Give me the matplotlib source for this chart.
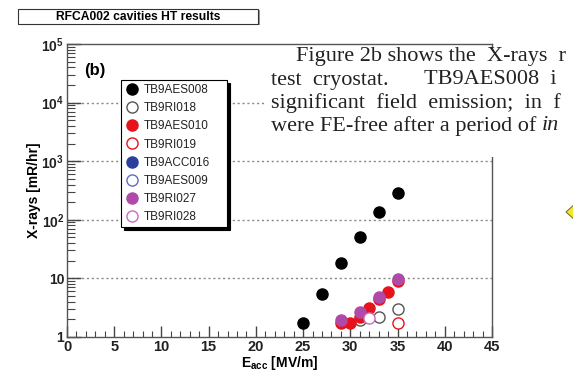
import matplotlib.pyplot as plt
import matplotlib.patches as mpatches
import matplotlib.ticker as mticker
import numpy as np

plt.rcParams['font.family'] = 'Liberation Sans'
plt.rcParams['mathtext.fontset'] = 'custom'
plt.rcParams['mathtext.rm'] = 'Liberation Sans'
plt.rcParams['mathtext.bf'] = 'Liberation Sans:bold'

W, H = 573, 372

# data (E_acc in MV/m, X-rays in mR/hr)
names = ["TB9AES008", "TB9RI018", "TB9AES010", "TB9RI019",
         "TB9ACC016", "TB9AES009", "TB9RI027", "TB9RI028"]
x_aes008 = [25, 27, 29, 31, 33, 35]
y_aes008 = [1.75, 5.5, 18.5, 50, 136, 290]
x_ri018 = [31, 33, 35]
y_ri018 = [1.94, 2.18, 2.98]
x_aes010 = [29, 30, 31, 32, 33, 34, 35]
y_aes010 = [1.72, 1.75, 2.2, 3.18, 4.4, 5.85, 9.1]
x_ri019 = [35]
y_ri019 = [1.75]
x_acc016 = []
y_acc016 = []
x_aes009 = []
y_aes009 = []
x_ri027 = [29, 31, 33, 35]
y_ri027 = [1.94, 2.62, 4.8, 9.6]
x_ri028 = [32]
y_ri028 = [2.07]

series = [(x_aes008, y_aes008), (x_ri018, y_ri018), (x_aes010, y_aes010), (x_ri019, y_ri019),
          (x_acc016, y_acc016), (x_aes009, y_aes009), (x_ri027, y_ri027), (x_ri028, y_ri028)]
colors = ['black', '#555555', '#e8121c', '#e8121c', '#2a3f9c', '#5a6cc8', '#b04aa8', '#c86cc0']
filled = [True, False, True, False, True, False, True, False]

fig = plt.figure(figsize=(W / 100, H / 100), dpi=100)
ax = fig.add_axes([67 / W, 1 - 337 / H, (492 - 67) / W, (337 - 44) / H])

for (xs, ys), c, f, n in zip(series, colors, filled, names):
    if f:
        ax.plot(xs, ys, 'o', color=c, mec=c, ms=8, ls='none', label=n, zorder=3)
    else:
        ax.plot(xs, ys, 'o', mfc='white', mec=c, mew=1.0, ms=8, ls='none', label=n, zorder=3)

ax.set_yscale('log')
ax.set_xlim(0, 45)
ax.set_ylim(1, 1e5)
ax.xaxis.set_major_locator(mticker.MultipleLocator(5))
ax.xaxis.set_minor_locator(mticker.MultipleLocator(1))
ax.set_yticks([1, 10, 1e2, 1e3, 1e4, 1e5])
ax.set_yticklabels(['1', '10', r'$\mathbf{10^2}$', r'$\mathbf{10^3}$', r'$\mathbf{10^4}$', r'$\mathbf{10^5}$'])
ax.yaxis.set_minor_locator(mticker.LogLocator(base=10, subs=np.arange(2, 10)))
ax.yaxis.set_minor_formatter(mticker.NullFormatter())
ax.tick_params(axis='both', which='both', direction='in', colors='#444444', labelcolor='#222222')
ax.tick_params(axis='y', which='major', length=10, width=1, labelsize=10, pad=2)
ax.tick_params(axis='y', which='minor', length=6, width=0.8)
ax.tick_params(axis='x', which='major', length=8, width=1, labelsize=10.5, pad=2)
ax.tick_params(axis='x', which='minor', length=4, width=0.8)
ax.tick_params(top=False, right=False, which='both')
for lab in ax.get_xticklabels() + ax.get_yticklabels():
    lab.set_fontweight('bold')
for s in ax.spines.values():
    s.set_color('#555555')
    s.set_linewidth(1.0)

for yv in [10, 1e2, 1e3, 1e4]:
    ax.axhline(yv, color='#888888', lw=1, ls=(0, (1.5, 2)), zorder=1)

ax.set_xlabel(r'$\mathbf{E_{acc}}$ [MV/m]', fontsize=10, fontweight='bold', labelpad=0)
ax.set_ylabel('X-rays [mR/hr]', fontsize=10, fontweight='bold', labelpad=0)
ax.text(0.04, 0.91, '(b)', transform=ax.transAxes, fontsize=12, fontweight='bold', va='center')

lx0 = (121 - 67) / 425
ly0 = (337 - 226) / 293
leg = ax.legend(loc='upper left', bbox_to_anchor=(lx0, ly0, (227 - 121) / 425, (226 - 80) / 293),
                mode='expand', borderaxespad=0, fancybox=False, framealpha=1, edgecolor='black',
                fontsize=8.5, handletextpad=0.4, labelspacing=0.52, borderpad=0.35,
                handlelength=1.2, shadow={'color': 'black', 'alpha': 1})
leg.get_frame().set_linewidth(0.8)
for t in leg.get_texts():
    t.set_color('#222222')

# title box
fig.patches.append(mpatches.Rectangle((20 / W, 1 - 25 / H), 240 / W, 15 / H, transform=fig.transFigure,
                                      facecolor='#999999', edgecolor='none', zorder=4))
fig.patches.append(mpatches.Rectangle((18 / W, 1 - 23.5 / H), 240 / W, 15 / H, transform=fig.transFigure,
                                      facecolor='white', edgecolor='#333333', lw=0.8, zorder=5))
fig.text(138 / W, 1 - 16.5 / H, 'RFCA002 cavities HT results', fontsize=8.7, fontweight='bold',
         ha='center', va='center', zorder=6)

# overlapping paper text
fig.patches.append(mpatches.Rectangle((266 / W, 1 - 157 / H), (W - 266) / W, 107 / H,
                                      transform=fig.transFigure, facecolor='white', edgecolor='none', zorder=10))
serif = 'Liberation Serif'
fs = 16
lines = [(296, 57, 'Figure 2b shows the  X-rays  r'),
         (271, 80, 'test  cryostat.'),
         (424, 80, 'TB9AES008  i'),
         (271, 103, 'significant  field  emission;  in  f'),
         (271, 126, 'were FE-free after a period of ')]
txts = []
for x, y, s in lines:
    txts.append(fig.text(x / W, 1 - y / H, s, fontsize=fs, family=serif, color='#222222',
                         va='center', ha='left', zorder=11))
fig.canvas.draw()
bb = txts[-1].get_window_extent()
fig.text(bb.x1 / W, 1 - 126 / H, 'in', fontsize=fs, family=serif, style='italic',
         color='#222222', va='center', ha='left', zorder=11)

# yellow arrow fragment at right edge
fig.patches.append(mpatches.Polygon([(566 / W, 1 - 212 / H), (576 / W, 1 - 203 / H), (576 / W, 1 - 221 / H)],
                                    closed=True, transform=fig.transFigure, facecolor='#f2e82a',
                                    edgecolor='#7a7a30', lw=0.8, zorder=10))

fig.savefig('out.png', dpi=100)
